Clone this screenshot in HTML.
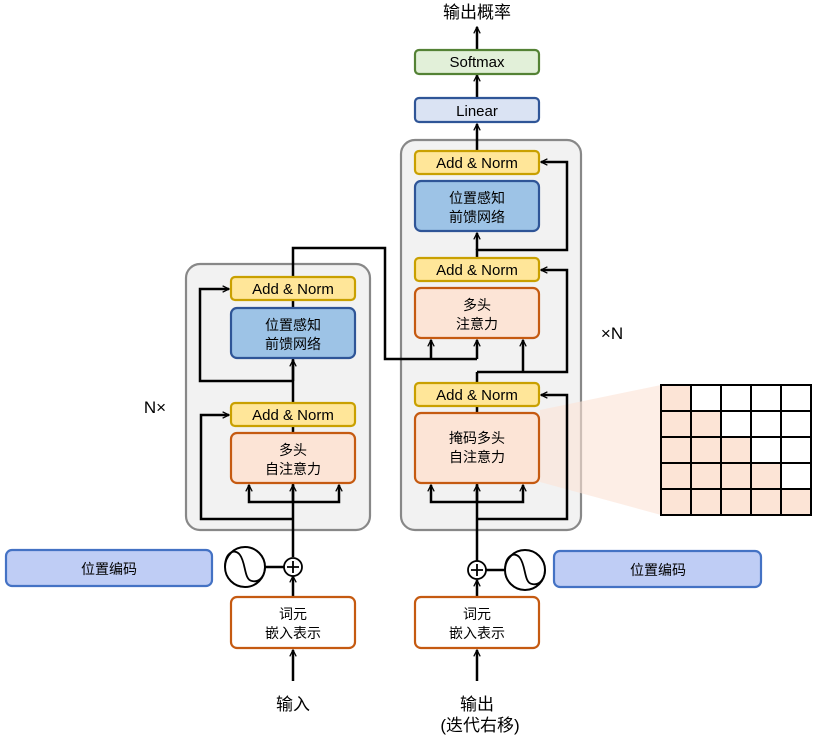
<!DOCTYPE html>
<html><head><meta charset="utf-8"><style>
html,body{margin:0;padding:0;background:#fff;}
svg{display:block;font-family:"Liberation Sans","Noto Sans CJK SC",sans-serif;}
</style></head><body>
<svg width="817" height="739" viewBox="0 0 817 739" xmlns="http://www.w3.org/2000/svg">
<defs>
<marker id="a" viewBox="0 0 10 10" refX="9" refY="5" markerWidth="8" markerHeight="8" orient="auto-start-reverse" markerUnits="userSpaceOnUse">
<path d="M1,1 L9,5 L1,9" fill="none" stroke="#000" stroke-width="1.6"/>
</marker>
</defs>
<!-- containers -->
<rect x="186" y="264" width="184" height="266" rx="14" fill="#f2f2f2" stroke="#888" stroke-width="2.2"/>
<rect x="401" y="140" width="180" height="390" rx="14" fill="#f2f2f2" stroke="#888" stroke-width="2.2"/>
<!-- mask wedge -->
<polygon points="540,410 661,385 661,515 540,482" fill="#fbe3d6" opacity="0.6"/>

<g fill="none" stroke="#000" stroke-width="2.5">
<path d="M293,576 V597" marker-start="url(#a)"/>
<path d="M293,557 V248 H385 V359 H477"/>
<path d="M293,519 H201 V415 H229" marker-end="url(#a)"/>
<path d="M249,485 V502 H339 V485" marker-start="url(#a)" marker-end="url(#a)"/>
<path d="M293,502 V485" marker-end="url(#a)"/>
<path d="M293,381 H200 V289 H229" marker-end="url(#a)"/>
<path d="M293,381 V360" marker-end="url(#a)"/>
<path d="M293,650 V681" marker-start="url(#a)"/>
<path d="M262,567 H284"/>
<path d="M477,650 V681" marker-start="url(#a)"/>
<path d="M477,580 V597" marker-start="url(#a)"/>
<path d="M477,561 V372"/>
<path d="M477,519 H567 V395 H541" marker-end="url(#a)"/>
<path d="M431,485 V502 H523 V485" marker-start="url(#a)" marker-end="url(#a)"/>
<path d="M477,502 V485" marker-end="url(#a)"/>
<path d="M477,372 H567 V270 H541" marker-end="url(#a)"/>
<path d="M523,372 V340" marker-end="url(#a)"/>
<path d="M431,359 V340" marker-end="url(#a)"/>
<path d="M477,359 V340" marker-end="url(#a)"/>
<path d="M477,281 V250 H567 V162 H541" marker-end="url(#a)"/>
<path d="M477,250 V233" marker-end="url(#a)"/>
<path d="M477,151 V124" marker-end="url(#a)"/>
<path d="M477,98 V75" marker-end="url(#a)"/>
<path d="M477,50 V27" marker-end="url(#a)"/>
<path d="M486,570 H505"/>
</g>

<g stroke-width="2.2">
<rect x="231" y="277" width="124" height="23" rx="4" fill="#ffe699" stroke="#c9a000"/>
<rect x="231" y="308" width="124" height="50" rx="6" fill="#9dc3e6" stroke="#2f5597"/>
<rect x="231" y="403" width="124" height="23" rx="4" fill="#ffe699" stroke="#c9a000"/>
<rect x="231" y="433" width="124" height="50" rx="6" fill="#fce4d6" stroke="#c55a11"/>
<rect x="231" y="597" width="124" height="51" rx="6" fill="#fff" stroke="#c55a11"/>
<rect x="6" y="550" width="206" height="36" rx="6" fill="#bfcdf5" stroke="#4472c4"/>
<rect x="415" y="50" width="124" height="24" rx="4" fill="#e2f0d9" stroke="#548235"/>
<rect x="415" y="98" width="124" height="24" rx="4" fill="#dae3f3" stroke="#2f5597"/>
<rect x="415" y="151" width="124" height="23" rx="4" fill="#ffe699" stroke="#c9a000"/>
<rect x="415" y="181" width="124" height="50" rx="6" fill="#9dc3e6" stroke="#2f5597"/>
<rect x="415" y="258" width="124" height="23" rx="4" fill="#ffe699" stroke="#c9a000"/>
<rect x="415" y="288" width="124" height="50" rx="6" fill="#fce4d6" stroke="#c55a11"/>
<rect x="415" y="383" width="124" height="23" rx="4" fill="#ffe699" stroke="#c9a000"/>
<rect x="415" y="413" width="124" height="70" rx="6" fill="#fce4d6" stroke="#c55a11"/>
<rect x="415" y="597" width="124" height="51" rx="6" fill="#fff" stroke="#c55a11"/>
<rect x="554" y="551" width="207" height="36" rx="6" fill="#bfcdf5" stroke="#4472c4"/>
</g>

<g fill="#fff" stroke="#000" stroke-width="1.8">
<circle cx="293" cy="567" r="9"/>
<circle cx="477" cy="570" r="9"/>
<circle cx="245" cy="567" r="20" stroke-width="2"/>
<circle cx="525" cy="570" r="20" stroke-width="2"/>
</g>
<g fill="none" stroke="#000" stroke-width="1.8">
<path d="M287,567 H299 M293,561 V573"/>
<path d="M471,570 H483 M477,564 V576"/>
<path d="M225,567 C225,552 235,548 240,555 C246,563 244,580 252,581 C260,583 265,575 265,567"/>
<path d="M505,570 C505,555 515,551 520,558 C526,566 524,583 532,584 C540,586 545,578 545,570"/>
</g>

<g stroke="#000" stroke-width="2">
<rect x="661" y="385" width="150" height="130" fill="#fff"/>
<g fill="#fce4d6" stroke="none">
<rect x="661" y="385" width="30" height="26"/>
<rect x="661" y="411" width="60" height="26"/>
<rect x="661" y="437" width="90" height="26"/>
<rect x="661" y="463" width="120" height="26"/>
<rect x="661" y="489" width="150" height="26"/>
</g>
<path d="M691,385V515M721,385V515M751,385V515M781,385V515M661,411H811M661,437H811M661,463H811M661,489H811" fill="none"/>
<rect x="661" y="385" width="150" height="130" fill="none"/>
</g>

<g font-size="15" text-anchor="middle" fill="#000">
<text x="293" y="294">Add &amp; Norm</text>
<text x="293" y="420">Add &amp; Norm</text>
<text x="477" y="168">Add &amp; Norm</text>
<text x="477" y="275">Add &amp; Norm</text>
<text x="477" y="400">Add &amp; Norm</text>
<text x="477" y="67">Softmax</text>
<text x="477" y="116">Linear</text>
</g>
<g font-size="14" text-anchor="middle" fill="#000">
<text x="293" y="330">位置感知</text><text x="293" y="349">前馈网络</text>
<text x="293" y="455">多头</text><text x="293" y="474">自注意力</text>
<text x="293" y="619">词元</text><text x="293" y="638">嵌入表示</text>
<text x="109" y="574">位置编码</text>
<text x="477" y="203">位置感知</text><text x="477" y="222">前馈网络</text>
<text x="477" y="310">多头</text><text x="477" y="329">注意力</text>
<text x="477" y="443">掩码多头</text><text x="477" y="462">自注意力</text>
<text x="477" y="619">词元</text><text x="477" y="638">嵌入表示</text>
<text x="658" y="575">位置编码</text>
</g>
<g font-size="17" text-anchor="middle" fill="#000">
<text x="293" y="710">输入</text>
<text x="477" y="710">输出</text>
<text x="480" y="731">(迭代右移)</text>
<text x="477" y="18">输出概率</text>
<text x="155" y="413">N×</text>
<text x="612" y="339">×N</text>
</g>
</svg>
</body></html>
